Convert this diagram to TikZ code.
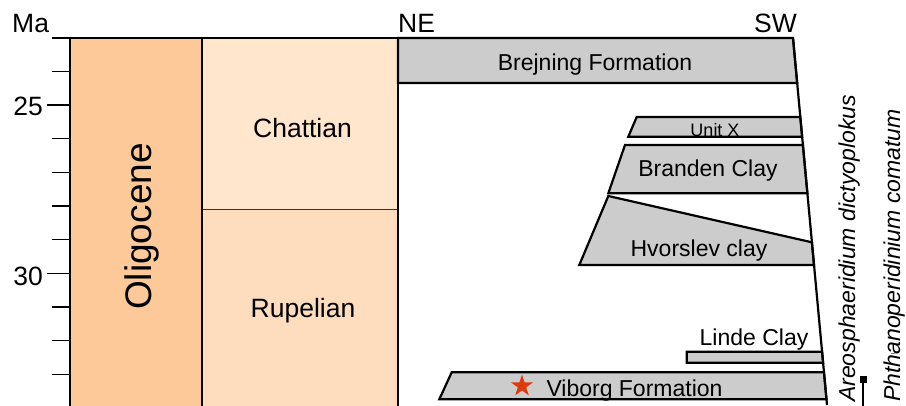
\documentclass[tikz,border=0pt]{standalone}
\usepackage{fontspec}
\setmainfont{Liberation Sans}
\usetikzlibrary{positioning}
\usetikzlibrary{calc}
\usetikzlibrary{shapes.geometric}
\definecolor{epochcol}{RGB}{253,201,152}
\definecolor{chattcol}{RGB}{255,230,204}
\definecolor{rupelcol}{RGB}{254,221,191}
\definecolor{unitgray}{RGB}{204,204,204}
\definecolor{starred}{RGB}{221,59,14}
\tikzset{lbl/.style={inner sep=0pt, font=\fontsize{23}{26}\selectfont}}
\tikzset{big/.style={inner sep=0pt, font=\fontsize{26.5}{30}\selectfont}}
\tikzset{taxon/.style={inner sep=0pt, rotate=90, anchor=base west, font=\fontsize{23}{26}\selectfont\itshape}}
\tikzset{unit/.style={draw, fill=unitgray, line width=2.2pt, line join=miter}}
\tikzset{col/.style={line width=2.2pt}}

\begin{document}
\begin{tikzpicture}[x=1pt, y=-1pt]
\useasboundingbox (0,0) rectangle (906,405);

% time columns
\fill[epochcol] (70,38) rectangle (202,410);
\fill[chattcol] (202,38) rectangle (398,209);
\fill[rupelcol] (202,209) rectangle (398,410);
\draw[line width=1pt, black!80] (202,209) -- (398,209);

% age axis
\foreach \k in {1,...,10}
  \draw[line width=1.3pt] (52,37.5+33.7*\k) -- (70,37.5+33.7*\k);
\draw[line width=1.3pt] (47,104.9) -- (52,104.9);
\draw[line width=1.3pt] (47,273.4) -- (52,273.4);

% lithostratigraphic units
\coordinate (swtop) at (793,38);
\coordinate (swbot) at (827,405);
\draw[unit] (398,38) -- (swtop) -- (797.2,83) -- (398,83) -- cycle;
\draw[unit] (636.7,117) -- (800.3,117) -- (802.1,136.7) -- (628.3,136.7) -- cycle;
\draw[unit] (625,145) -- (802.9,145) -- (807.4,193.3) -- (608.3,193.3) -- cycle;
\draw[unit] (608.3,196) -- (811.9,242.3) -- (814,265) -- (579.3,265) -- cycle;
\draw[unit] (686.7,351.7) -- (822.1,351.7) -- (823.1,362.7) -- (686.7,362.7) -- cycle;
\draw[unit] (451.7,372.3) -- (824,372.3) -- (826.5,399.3) -- (439.3,399.3) -- cycle;

\draw[col] (52,38) -- (swtop);
\draw[col] (70,38) -- (70,410);
\draw[col] (202,38) -- (202,410);
\draw[col] (398,38) -- (398,410);
\draw[col] (swtop) -- (swbot);

% labels
\node[big, anchor=base west] (ma) at (12,32) {Ma};
\node[big, anchor=base east] (a25) at (43,115) {25};
\node[big, anchor=base east] (a30) at (43,285) {30};
\node[big, anchor=base west] (ne) at (398,32) {NE};
\node[big, anchor=base east] (sw) at (797,32) {SW};
\node[inner sep=0pt, rotate=90, anchor=base, font=\fontsize{37}{40}\selectfont] (oligo) at (151.5,226.5) {Oligocene};
\node[big, anchor=base] (chatt) at (302.5,137) {Chattian};
\node[big, anchor=base] (rupel) at (303,317) {Rupelian};

\node[lbl, anchor=base] (brejning) at (595,70.3) {Brejning Formation};
\node[inner sep=0pt, anchor=base, font=\fontsize{18}{20}\selectfont] (unitx) at (715,136.7) {Unit X};
\node[lbl, anchor=base] (branden) at (708,176.7) {Branden Clay};
\node[lbl, anchor=base] (hvorslev) at (699,256.7) {Hvorslev clay};
\node[lbl, anchor=base] (linde) at (754,345) {Linde Clay};
\node[lbl, anchor=base] (viborg) at (634.5,396) {Viborg Formation};
\node[star, star points=5, star point ratio=2.6, fill=starred, inner sep=0pt, minimum size=23pt] (site) at (522,386) {};

% dinocyst ranges
\node[taxon] (areo) at (855,402) {Areosphaeridium dictyoplokus};
\node[taxon] (phth) at (900,402) {Phthanoperidinium comatum};
\node[fill=black, inner sep=0pt, minimum size=6.5pt] (areotop) at (863.3,379.7) {};
\coordinate (areobase) at (863.3,410);
\draw[line width=2pt] (areotop) -- (areobase);
\coordinate (phtop) at (891,353);
\coordinate (phtopr) at (895,353);
\draw[line width=1pt, black!50] (phtop) -- (phtopr);
\end{tikzpicture}
\end{document}
